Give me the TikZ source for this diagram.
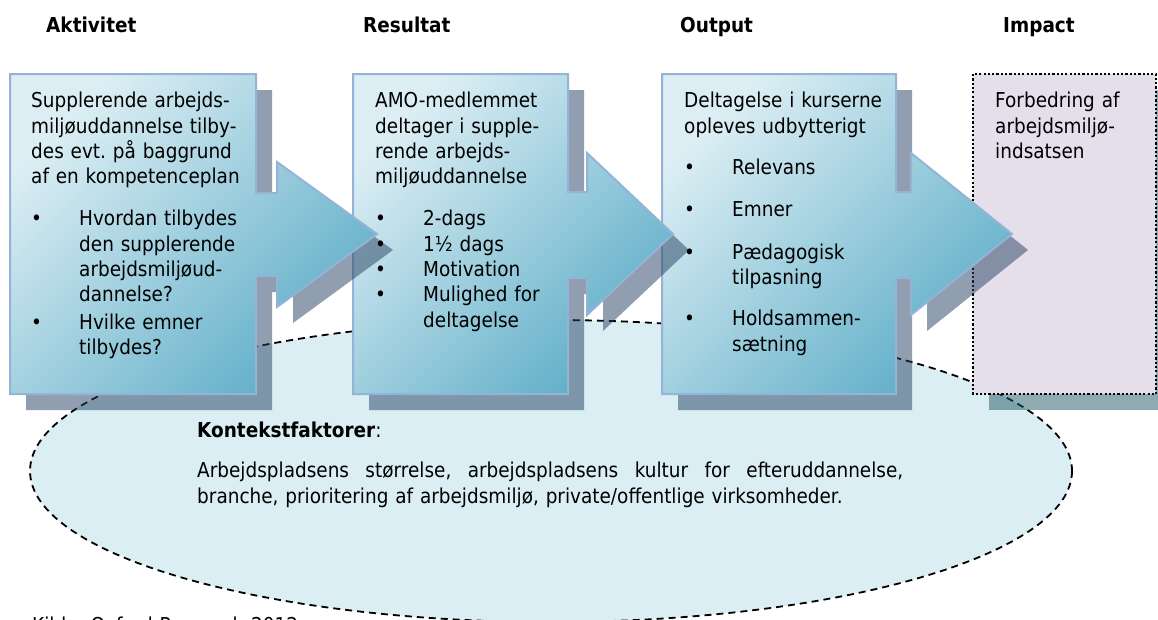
\documentclass[tikz,border=0pt]{standalone}
\usepackage{fontspec}
\setmainfont{DejaVu Sans}[FakeStretch=0.9]
\frenchspacing
\definecolor{boxlight}{HTML}{DCEEF4}
\definecolor{boxdark}{HTML}{5FAEC8}
\definecolor{boxline}{HTML}{95B3D7}
\definecolor{shadowc}{HTML}{243F60}
\definecolor{shadowt}{HTML}{205867}
\definecolor{impactfill}{HTML}{E5DFEC}
\definecolor{ctxfill}{HTML}{DAEEF3}
\newcommand\bul{\makebox[48pt][l]{\textbullet}}
\newcommand\ind{\hspace*{48pt}}
\newcommand\pathA{(10,74) -- (256,74) -- (256,193) -- (277,193) -- (277,162) -- (377,234) -- (277,307) -- (277,276) -- (256,276) -- (256,394) -- (10,394) -- cycle}
\newcommand\pathB{(353,74) -- (568,74) -- (568,192) -- (587,192) -- (587,153) -- (673,234) -- (587,315) -- (587,278) -- (568,278) -- (568,394) -- (353,394) -- cycle}
\newcommand\pathC{(662,74) -- (896,74) -- (896,192) -- (911,192) -- (911,153) -- (1012,234) -- (911,315) -- (911,278) -- (896,278) -- (896,394) -- (662,394) -- cycle}
\tikzset{
  flowbox/.style={draw=boxline, line width=2pt, line join=miter, top color=boxlight, bottom color=boxdark, shading angle=45},
  flowshadow/.style={fill=shadowc, fill opacity=0.5, draw=none},
  impactshadow/.style={fill=shadowt, fill opacity=0.5, draw=none},
  impactbox/.style={fill=impactfill, draw=black, line width=2.4pt, dash pattern=on 2.2pt off 2.1pt},
  ctxshape/.style={fill=ctxfill, draw=black, line width=1.8pt, dash pattern=on 7pt off 5pt},
  txt/.style={anchor=base west, inner sep=0pt, text width=300pt, align=left, font=\fontsize{20.5}{25.3}\selectfont},
  head/.style={anchor=base west, inner sep=0pt, font=\fontsize{20.5}{25.3}\selectfont\bfseries},
}
\begin{document}
\begin{tikzpicture}[x=1pt, y=-1pt]
\useasboundingbox[fill=white] (0,0) rectangle (1158,619);
% context ellipse
\draw[ctxshape] (551,471) ellipse [x radius=521, y radius=151];
% impact box
\fill[impactshadow, shift={(16,16)}] (973,74) rectangle (1156,394);
\draw[impactbox] (973,74) rectangle (1156,394);
% output box
\fill[flowshadow, shift={(16,16)}] \pathC;
\draw[flowbox] \pathC;
% resultat box
\fill[flowshadow, shift={(16,16)}] \pathB;
\draw[flowbox] \pathB;
% aktivitet box
\fill[flowshadow, shift={(16,16)}] \pathA;
\draw[flowbox] \pathA;
% headers
\node[head] (h1) at (46,32) {Aktivitet};
\node[head] (h2) at (363,32) {Resultat};
\node[head] (h3) at (680,32) {Output};
\node[head] (h4) at (1003,32) {Impact};
% texts
\node[txt] (t1) at (31,107.7) {Supplerende arbejds-\\miljøuddannelse tilby-\\des evt. på baggrund\\af en kompetenceplan\\[17pt]\bul Hvordan tilbydes\\\ind den supplerende\\\ind arbejdsmiljøud-\\\ind dannelse?\\[2pt]\bul Hvilke emner\\\ind tilbydes?};
\node[txt] (t2) at (375,107.7) {AMO-medlemmet\\deltager i supple-\\rende arbejds-\\miljøuddannelse\\[17pt]\bul 2-dags\\\bul 1½ dags\\\bul Motivation\\\bul Mulighed for\\\ind deltagelse};
\node[txt] (t3) at (684,107.7) {Deltagelse i kurserne\\opleves udbytterigt\\[16.4pt]\bul Relevans\\[16.3pt]\bul Emner\\[17.4pt]\bul Pædagogisk\\\ind tilpasning\\[16.3pt]\bul Holdsammen-\\\ind sætning};
\node[txt] (t4) at (995,107.7) {Forbedring af\\arbejdsmiljø-\\indsatsen};
\node[txt, text width=720pt] (ctx) at (197,437) {\textbf{Kontekstfaktorer}:\\[15.4pt]\leavevmode\hbox to 706pt{Arbejdspladsens\hfill størrelse,\hfill arbejdspladsens\hfill kultur\hfill for\hfill efteruddannelse,}\\branche, prioritering af arbejdsmiljø, private/offentlige virksomheder.};
\node[txt] (src) at (32,632.5) {Kilde: Oxford Research 2012};
\end{tikzpicture}
\end{document}
